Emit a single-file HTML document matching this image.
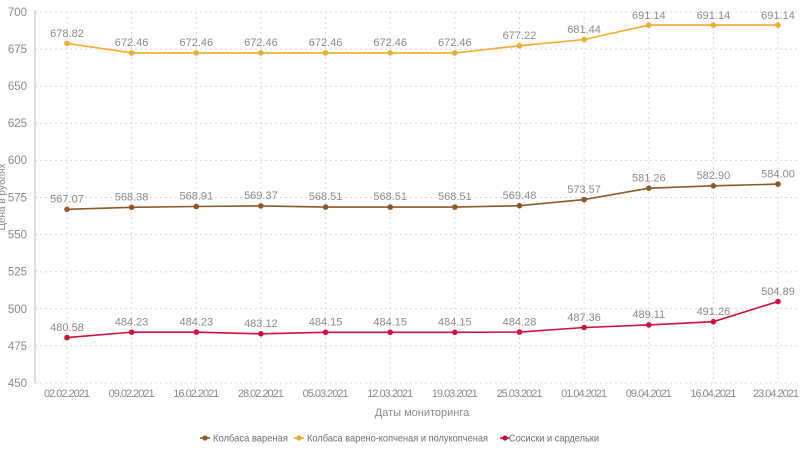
<!DOCTYPE html>
<html><head><meta charset="utf-8"><style>
html,body{margin:0;padding:0;background:#fff;width:800px;height:450px;overflow:hidden}
svg{display:block;font-family:"Liberation Sans",sans-serif}
</style></head><body>
<svg width="800" height="450" viewBox="0 0 800 450" xmlns="http://www.w3.org/2000/svg">
<g stroke="#d8d8dc" stroke-width="1" stroke-dasharray="2,3" fill="none">
<line x1="35" x2="800" y1="12" y2="12"/><line x1="35" x2="800" y1="49.1" y2="49.1"/><line x1="35" x2="800" y1="86.2" y2="86.2"/><line x1="35" x2="800" y1="123.3" y2="123.3"/><line x1="35" x2="800" y1="160.4" y2="160.4"/><line x1="35" x2="800" y1="197.5" y2="197.5"/><line x1="35" x2="800" y1="234.6" y2="234.6"/><line x1="35" x2="800" y1="271.7" y2="271.7"/><line x1="35" x2="800" y1="308.8" y2="308.8"/><line x1="35" x2="800" y1="345.9" y2="345.9"/><line x1="35" x2="800" y1="383" y2="383"/>
<line x1="67" x2="67" y1="12" y2="383"/><line x1="131.6" x2="131.6" y1="12" y2="383"/><line x1="196.3" x2="196.3" y1="12" y2="383"/><line x1="260.9" x2="260.9" y1="12" y2="383"/><line x1="325.6" x2="325.6" y1="12" y2="383"/><line x1="390.2" x2="390.2" y1="12" y2="383"/><line x1="454.8" x2="454.8" y1="12" y2="383"/><line x1="519.5" x2="519.5" y1="12" y2="383"/><line x1="584.1" x2="584.1" y1="12" y2="383"/><line x1="648.8" x2="648.8" y1="12" y2="383"/><line x1="713.4" x2="713.4" y1="12" y2="383"/><line x1="778" x2="778" y1="12" y2="383"/>
</g>
<line x1="35" x2="35" y1="10" y2="383" stroke="#c8c8cc" stroke-width="1.2"/>
<g fill="#8a8a8e" font-size="11.5" text-anchor="end">
<text x="27" y="16">700</text><text x="27" y="53">675</text><text x="27" y="90">650</text><text x="27" y="127">625</text><text x="27" y="164">600</text><text x="27" y="201.5">575</text><text x="27" y="238.5">550</text><text x="27" y="275.5">525</text><text x="27" y="313">500</text><text x="27" y="350">475</text><text x="27" y="387">450</text>
</g>
<text transform="translate(5,197) rotate(-90)" font-size="10" fill="#8a8a8e" text-anchor="middle">Цена в рублях</text>
<g fill="#8a8a8e" font-size="11" text-anchor="middle">
<text x="67" y="397" textLength="46">02.02.2021</text><text x="131.6" y="397" textLength="46">09.02.2021</text><text x="196.3" y="397" textLength="46">16.02.2021</text><text x="260.9" y="397" textLength="46">28.02.2021</text><text x="325.6" y="397" textLength="46">05.03.2021</text><text x="390.2" y="397" textLength="46">12.03.2021</text><text x="454.8" y="397" textLength="46">19.03.2021</text><text x="519.5" y="397" textLength="46">25.03.2021</text><text x="584.1" y="397" textLength="46">01.04.2021</text><text x="648.8" y="397" textLength="46">09.04.2021</text><text x="713.4" y="397" textLength="46">16.04.2021</text><text x="776" y="397" textLength="46">23.04.2021</text>
<text x="422" y="416">Даты мониторинга</text>
</g>
<polyline fill="none" stroke="#f2ab2e" stroke-width="1.6" points="67,43.4 131.6,52.9 196.3,52.9 260.9,52.9 325.6,52.9 390.2,52.9 454.8,52.9 519.5,45.8 584.1,39.5 648.8,25.1 713.4,25.1 778,25.1"/>
<g fill="#f2ab2e"><circle cx="67" cy="43.4" r="2.8"/><circle cx="131.6" cy="52.9" r="2.8"/><circle cx="196.3" cy="52.9" r="2.8"/><circle cx="260.9" cy="52.9" r="2.8"/><circle cx="325.6" cy="52.9" r="2.8"/><circle cx="390.2" cy="52.9" r="2.8"/><circle cx="454.8" cy="52.9" r="2.8"/><circle cx="519.5" cy="45.8" r="2.8"/><circle cx="584.1" cy="39.5" r="2.8"/><circle cx="648.8" cy="25.1" r="2.8"/><circle cx="713.4" cy="25.1" r="2.8"/><circle cx="778" cy="25.1" r="2.8"/></g>
<polyline fill="none" stroke="#8b5a2b" stroke-width="1.6" points="67,209.3 131.6,207.3 196.3,206.5 260.9,205.9 325.6,207.1 390.2,207.1 454.8,207.1 519.5,205.7 584.1,199.6 648.8,188.2 713.4,185.8 778,184.1"/>
<g fill="#8b5a2b"><circle cx="67" cy="209.3" r="2.8"/><circle cx="131.6" cy="207.3" r="2.8"/><circle cx="196.3" cy="206.5" r="2.8"/><circle cx="260.9" cy="205.9" r="2.8"/><circle cx="325.6" cy="207.1" r="2.8"/><circle cx="390.2" cy="207.1" r="2.8"/><circle cx="454.8" cy="207.1" r="2.8"/><circle cx="519.5" cy="205.7" r="2.8"/><circle cx="584.1" cy="199.6" r="2.8"/><circle cx="648.8" cy="188.2" r="2.8"/><circle cx="713.4" cy="185.8" r="2.8"/><circle cx="778" cy="184.1" r="2.8"/></g>
<polyline fill="none" stroke="#d0103a" stroke-width="1.6" points="67,337.6 131.6,332.2 196.3,332.2 260.9,333.8 325.6,332.3 390.2,332.3 454.8,332.3 519.5,332.1 584.1,327.5 648.8,324.9 713.4,321.7 778,301.5"/>
<g fill="#d0103a"><circle cx="67" cy="337.6" r="2.8"/><circle cx="131.6" cy="332.2" r="2.8"/><circle cx="196.3" cy="332.2" r="2.8"/><circle cx="260.9" cy="333.8" r="2.8"/><circle cx="325.6" cy="332.3" r="2.8"/><circle cx="390.2" cy="332.3" r="2.8"/><circle cx="454.8" cy="332.3" r="2.8"/><circle cx="519.5" cy="332.1" r="2.8"/><circle cx="584.1" cy="327.5" r="2.8"/><circle cx="648.8" cy="324.9" r="2.8"/><circle cx="713.4" cy="321.7" r="2.8"/><circle cx="778" cy="301.5" r="2.8"/></g>
<g fill="#8a8a8e" font-size="11" text-anchor="middle">
<text x="67" y="37">678.82</text><text x="131.6" y="46">672.46</text><text x="196.3" y="46">672.46</text><text x="260.9" y="46">672.46</text><text x="325.6" y="46">672.46</text><text x="390.2" y="46">672.46</text><text x="454.8" y="46">672.46</text><text x="519.5" y="39">677.22</text><text x="584.1" y="33">681.44</text><text x="648.8" y="19">691.14</text><text x="713.4" y="19">691.14</text><text x="778" y="19">691.14</text>
<text x="67" y="202.5">567.07</text><text x="131.6" y="200.5">568.38</text><text x="196.3" y="199.5">568.91</text><text x="260.9" y="199">569.37</text><text x="325.6" y="200">568.51</text><text x="390.2" y="200">568.51</text><text x="454.8" y="200">568.51</text><text x="519.5" y="199">569.48</text><text x="584.1" y="193">573.57</text><text x="648.8" y="181.5">581.26</text><text x="713.4" y="179">582.90</text><text x="778" y="177.5">584.00</text>
<text x="67" y="331">480.58</text><text x="131.6" y="325.5">484.23</text><text x="196.3" y="325.5">484.23</text><text x="260.9" y="327">483.12</text><text x="325.6" y="325.5">484.15</text><text x="390.2" y="325.5">484.15</text><text x="454.8" y="325.5">484.15</text><text x="519.5" y="325.5">484.28</text><text x="584.1" y="321">487.36</text><text x="648.8" y="318">489.11</text><text x="713.4" y="315">491.26</text><text x="778" y="295">504.89</text>
</g>
<g font-size="10" fill="#6e6e72">
<line x1="200" x2="210" y1="438" y2="438" stroke="#8b5a2b" stroke-width="1.6"/><circle cx="205" cy="438" r="2.6" fill="#8b5a2b"/>
<text x="213" y="441.5" textLength="75" lengthAdjust="spacingAndGlyphs">Колбаса вареная</text>
<line x1="294" x2="304" y1="438" y2="438" stroke="#f2ab2e" stroke-width="1.6"/><circle cx="299" cy="438" r="2.6" fill="#f2ab2e"/>
<text x="307" y="441.5" textLength="181" lengthAdjust="spacingAndGlyphs">Колбаса варено-копченая и полукопченая</text>
<line x1="500" x2="510" y1="438" y2="438" stroke="#d0103a" stroke-width="1.6"/><circle cx="505" cy="438" r="2.6" fill="#d0103a"/>
<text x="509" y="441.5" textLength="90" lengthAdjust="spacingAndGlyphs">Сосиски и сардельки</text>
</g>
</svg>
</body></html>
